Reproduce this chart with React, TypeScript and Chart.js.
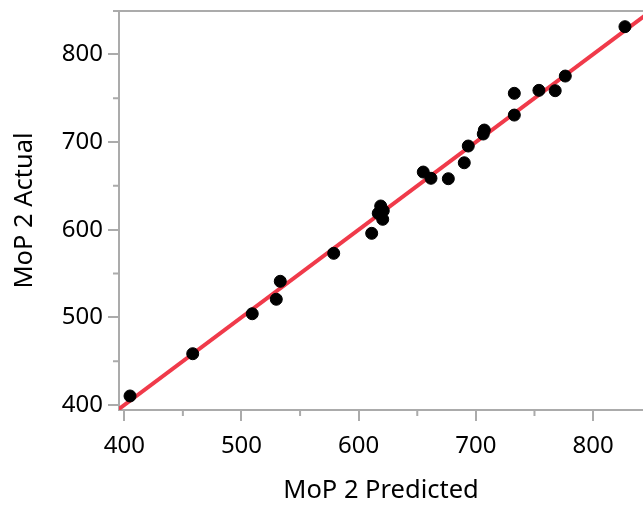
import React, { useEffect, useRef } from "react";
import { Chart, registerables } from "chart.js";

Chart.register(...registerables);

// MoP 2 Predicted (x) vs MoP 2 Actual (y)
const predicted = [404.9, 458.4, 509.2, 529.7, 533.1, 578.7, 611.1, 616.7, 618.8, 621.0, 620.5, 655.1, 661.7, 676.5, 690.1, 693.5, 706.3, 707.2, 732.8, 732.8, 753.8, 767.7, 776.3, 827.2];
const actual = [410.3, 458.5, 504.1, 520.6, 541.1, 573.0, 595.8, 618.6, 627.0, 621.6, 611.8, 665.7, 658.6, 658.1, 676.3, 695.4, 709.1, 713.6, 730.7, 755.5, 758.9, 758.5, 775.2, 831.5];

// fit line (actual = predicted)
const fitX = [390, 860];
const fitY = [390, 860];

const xTicks = [400, 500, 600, 700, 800];
const yTicks = [400, 500, 600, 700, 800];
const xMinorTicks = [450, 550, 650, 750];
const yMinorTicks = [450, 550, 650, 750];

const X_MIN = 395.5;
const X_MAX = 842.6;
const Y_MIN = 394.3;
const Y_MAX = 849.4;

const GRAY = "#ababab";
const FONT = "'Noto Sans', sans-serif";

const framePlugin = {
  id: "frame",
  afterDraw(chart: any) {
    const { ctx, chartArea, scales } = chart;
    ctx.save();
    ctx.strokeStyle = GRAY;
    ctx.lineWidth = 2;
    // top border
    ctx.beginPath();
    ctx.moveTo(chartArea.left - 6, chartArea.top);
    ctx.lineTo(chartArea.right, chartArea.top);
    ctx.stroke();
    // minor ticks
    ctx.beginPath();
    xMinorTicks.forEach((v) => {
      const px = scales.x.getPixelForValue(v);
      ctx.moveTo(px, chartArea.bottom);
      ctx.lineTo(px, chartArea.bottom + 6);
    });
    yMinorTicks.forEach((v) => {
      const py = scales.y.getPixelForValue(v);
      ctx.moveTo(chartArea.left, py);
      ctx.lineTo(chartArea.left - 6, py);
    });
    ctx.stroke();
    ctx.restore();
  },
};

const noPad = (scale: any) => {
  scale.paddingTop = 0;
  scale.paddingBottom = 0;
  scale.paddingLeft = 0;
  scale.paddingRight = 0;
};

export default function App() {
  const ref = useRef<HTMLCanvasElement | null>(null);

  useEffect(() => {
    if (!ref.current) return;
    const chart = new Chart(ref.current, {
      type: "scatter",
      data: {
        datasets: [
          {
            type: "scatter",
            data: predicted.map((x, i) => ({ x, y: actual[i] })),
            backgroundColor: "#000",
            borderColor: "#000",
            borderWidth: 1,
            pointRadius: 6,
          },
          {
            type: "line",
            data: fitX.map((x, i) => ({ x, y: fitY[i] })),
            borderColor: "#f03a4a",
            borderWidth: 4,
            pointRadius: 0,
            fill: false,
          } as any,
        ],
      },
      options: {
        animation: false,
        responsive: false,
        layout: { autoPadding: false, padding: { top: 11, right: 0, left: 0, bottom: 0 } },
        plugins: { legend: { display: false }, tooltip: { enabled: false } },
        scales: {
          x: {
            type: "linear",
            min: X_MIN,
            max: X_MAX,
            afterBuildTicks: (scale: any) => {
              scale.ticks = xTicks.map((v) => ({ value: v }));
            },
            afterFit: (scale: any) => {
              scale.height = 97;
              noPad(scale);
            },
            border: { display: true, color: GRAY, width: 2 },
            grid: { drawOnChartArea: false, drawTicks: true, tickLength: 11, color: GRAY, lineWidth: 2 },
            ticks: { color: "#000", font: { family: FONT, size: 24 }, padding: 11, maxRotation: 0 },
            title: {
              display: true,
              text: "MoP 2 Predicted",
              color: "#000",
              font: { family: FONT, size: 25.5 },
              padding: { top: 0, bottom: 1 },
            },
          },
          y: {
            type: "linear",
            min: Y_MIN,
            max: Y_MAX,
            afterBuildTicks: (scale: any) => {
              scale.ticks = yTicks.map((v) => ({ value: v }));
            },
            afterFit: (scale: any) => {
              scale.width = 119;
              noPad(scale);
            },
            border: { display: true, color: GRAY, width: 2 },
            grid: { drawOnChartArea: false, drawTicks: true, tickLength: 11, color: GRAY, lineWidth: 2 },
            ticks: { color: "#000", font: { family: FONT, size: 24 }, padding: 5 },
            title: {
              display: true,
              text: "MoP 2 Actual",
              color: "#000",
              font: { family: FONT, size: 25.5 },
              padding: { top: 9, bottom: 0 },
            },
          },
        },
      },
      plugins: [framePlugin],
    });
    return () => chart.destroy();
  }, []);

  return (
    <div style={{ position: "absolute", left: 0, top: 0, width: 643, height: 507, background: "#fff" }}>
      <canvas ref={ref} width={643} height={507} style={{ display: "block" }} />
    </div>
  );
}
